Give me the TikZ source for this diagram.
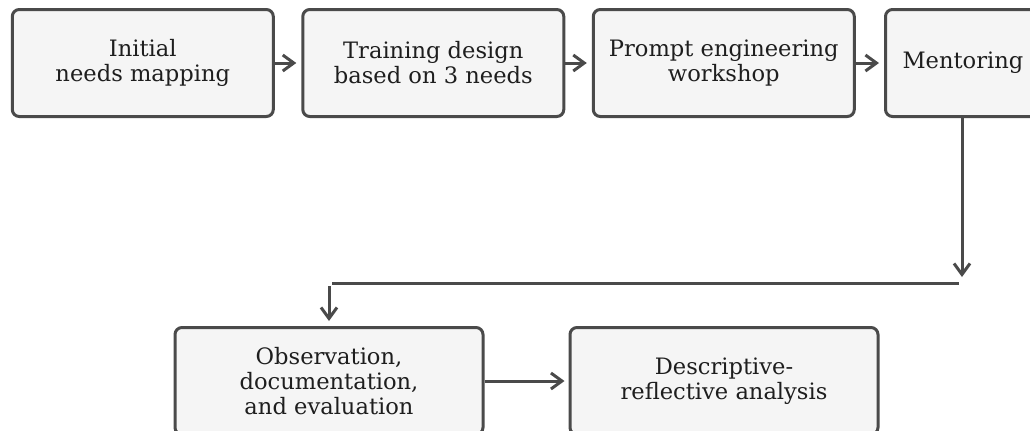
\documentclass[tikz,border=0pt]{standalone}
\usepackage{fontspec}
\setmainfont{DejaVu Serif}
\usetikzlibrary{arrows.meta}
\definecolor{edgegray}{HTML}{4A4A4A}
\definecolor{boxfill}{HTML}{F5F5F5}
\definecolor{textgray}{HTML}{1E1E1E}

\begin{document}
\begin{tikzpicture}[x=0.5pt, y=-0.5pt,
                    stepbox/.style = {draw=edgegray, fill=boxfill, line width=1.5pt, rounded corners=3.5pt,
                                      minimum width=130.5pt, minimum height=53.5pt, align=center,
                                      text=textgray, font=\fontsize{11.3}{12.5}\selectfont},
                    widebox/.style = {stepbox, minimum width=154pt},
                    arr/.style = {draw=edgegray, line width=1.5pt, -{Straight Barb[length=5.5pt,width=8pt]}},
                    link/.style = {draw=edgegray, line width=1.5pt}]
                    \useasboundingbox (0,0) rectangle (1030,430);
                    \clip (0,0) rectangle (1030,430);
                    \node[stepbox] (needs) at (142.8,63) {Initial\\needs mapping};
                    \node[stepbox] (design) at (433.3,63) {Training design\\based on 3 needs};
                    \node[stepbox] (workshop) at (723.8,63) {Prompt engineering\\workshop};
                    \node[stepbox, anchor=west, text width=113.5pt, inner xsep=8.5pt, align=left]
                        (mentor) at (884,63) {Mentoring};
                    \node[widebox] (observe) at (329,381) {Observation,\\documentation,\\and evaluation};
                    \node[widebox] (analysis) at (724,381) {Descriptive-\\reflective analysis};
                    \coordinate (bend) at (962,283);
                    \coordinate (lineR) at (959,283);
                    \coordinate (lineL) at (332,283);
                    \coordinate (drop) at (329,286);
                    \draw[arr, shorten >=2.5pt] (needs) -- (design);
                    \draw[arr, shorten >=2.5pt] (design) -- (workshop);
                    \draw[arr, shorten >=2.5pt] (workshop) -- (mentor);
                    \draw[arr, shorten >=3pt] (mentor.south -| bend) -- (bend);
                    \draw[link] (lineL) -- (lineR);
                    \draw[arr, shorten >=2.5pt] (drop) -- (observe);
                    \draw[arr, shorten >=2pt] (observe) -- (analysis);
                \end{tikzpicture}
\end{document}
